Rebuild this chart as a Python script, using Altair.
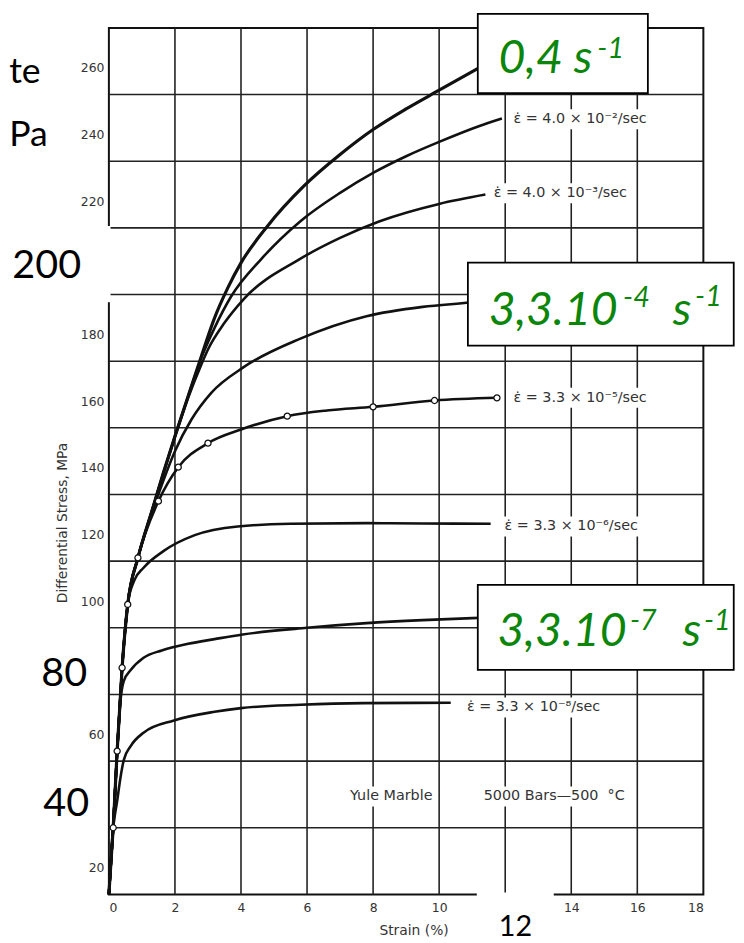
import altair as alt
import pandas as pd

# ---------------- data ----------------
# strain (%) / differential stress (MPa) for each strain-rate curve
c1_strain = [0, 0.13, 0.25, 0.40, 0.57, 0.88, 1.3, 1.65, 2.0, 2.4, 2.8, 3.2, 3.6, 4.0, 4.8, 5.9, 7.0, 8.0, 9.0, 10.0, 11.3]
c1_stress = [12, 32, 55, 80, 99, 113, 127, 138.5, 149.5, 161.5, 173.5, 185, 194, 201.5, 212.5, 224.5, 234, 241.5, 247.7, 253.3, 260.5]

c2_strain = [0, 0.13, 0.25, 0.40, 0.57, 0.88, 1.3, 1.65, 2.0, 2.4, 2.8, 3.2, 3.7, 4.6, 5.8, 7.0, 8.0, 9.0, 10.0, 11.2, 11.9]
c2_stress = [12, 32, 55, 80, 99, 113, 127, 138.5, 149.5, 161.5, 173, 182, 191.4, 202.5, 214, 222.5, 228.5, 233.5, 237.8, 242.5, 244.8]

c3_strain = [0, 0.13, 0.25, 0.40, 0.57, 0.88, 1.3, 1.65, 2.0, 2.4, 2.8, 3.0, 3.5, 4.07, 5.74, 7.0, 8.2, 10.0, 11.4]
c3_stress = [12, 32, 55, 80, 99, 113, 127, 138.3, 149.2, 161, 171, 175.5, 183.5, 190.5, 202.4, 209, 214, 219.2, 222]

c4_strain = [0, 0.13, 0.25, 0.40, 0.57, 0.88, 1.2, 1.55, 2.0, 2.5, 3.1, 4.08, 5.78, 7.8, 9.5, 10.93, 11.6]
c4_stress = [12, 32, 55, 80, 99, 113, 123.5, 133.5, 145, 154.5, 162.5, 170.2, 178.7, 185.5, 188.3, 189.6, 190.3]

c5_strain = [0, 0.13, 0.25, 0.40, 0.57, 0.88, 1.5, 2.1, 3.0, 4.0, 5.4, 6.6, 8.0, 9.86, 11.75]
c5_stress = [12, 32, 55, 80, 99, 113, 130, 140.2, 147.4, 151.5, 155.5, 157.2, 158.3, 160.2, 161]

c6_strain = [0, 0.13, 0.25, 0.40, 0.57, 0.76, 1.05, 1.65, 2.6, 3.9, 5.5, 7.8, 9.5, 11.56]
c6_stress = [12, 32, 55, 80, 99, 106, 110, 115, 119.8, 122.4, 123.2, 123.4, 123.3, 123.2]

c7_strain = [0, 0.13, 0.25, 0.36, 0.45, 0.66, 1.05, 1.6, 2.4, 3.2, 4.05, 6.0, 7.8, 9.5, 11.0, 11.3]
c7_stress = [12, 32, 55, 71, 76, 79.3, 83, 85.2, 87.2, 88.6, 90, 92.0, 93.4, 94.3, 94.9, 95]

c8_strain = [0, 0.12, 0.25, 0.35, 0.45, 0.66, 1.06, 1.97, 3.2, 4.0, 5.8, 7.7, 10.35]
c8_stress = [12, 31, 40, 47, 52.3, 56.5, 60.6, 64.2, 66.8, 67.9, 68.9, 69.4, 69.5]

# measured points (open circles) on the 3.3e-5/sec curve
pts_strain = [0.13, 0.25, 0.40, 0.57, 0.88, 1.5, 2.1, 3.0, 5.4, 8.0, 9.86, 11.75]
pts_stress = [32, 55, 80, 99, 113, 130, 140.2, 147.4, 155.5, 158.3, 160.2, 161]

curve_names = ["0.4/s", "4.0e-2/s", "4.0e-3/s", "3.3e-4/s", "3.3e-5/s", "3.3e-6/s", "3.3e-7/s", "3.3e-8/s"]
curve_strains = [c1_strain, c2_strain, c3_strain, c4_strain, c5_strain, c6_strain, c7_strain, c8_strain]
curve_stresses = [c1_stress, c2_stress, c3_stress, c4_stress, c5_stress, c6_stress, c7_stress, c8_stress]

# axis tick values
x_ticks = [0, 2, 4, 6, 8, 10, 12, 14, 16, 18]
y_ticks = [20, 40, 60, 80, 100, 120, 140, 160, 180, 200, 220, 240, 260]
x_grid = [2, 4, 6, 8, 10, 12, 14, 16]
y_grid = [32, 52, 72, 92, 112, 132, 152, 172, 192, 212, 232, 252]

# original small curve labels
rate_labels = ["\u03b5\u0307 = 4.0 \u00d7 10\u207b\u00b2/sec", "\u03b5\u0307 = 4.0 \u00d7 10\u207b\u00b3/sec",
               "\u03b5\u0307 = 3.3 \u00d7 10\u207b\u2075/sec", "\u03b5\u0307 = 3.3 \u00d7 10\u207b\u2076/sec",
               "\u03b5\u0307 = 3.3 \u00d7 10\u207b\u2078/sec"]
rate_x = [12.25, 11.65, 12.25, 11.98, 10.84]
rate_y = [244.6, 222.4, 161.0, 122.4, 68.1]
rate_w = [4.2, 4.2, 4.2, 4.2, 4.1]

info_labels = ["Yule Marble", "5000 Bars\u2014500\u00a0 \u00b0C"]
info_x = [7.3, 11.35]
info_y = [41.4, 41.4]
info_w = [2.5, 4.6]

# overlaid boxes (green strain-rate callouts)
box_x1 = [11.17, 10.87, 11.17]
box_x2 = [16.32, 18.92, 18.92]
box_y1 = [252.4, 176.7, 79.4]
box_y2 = [276.2, 201.6, 104.9]

main_txt = ["0,4 s", "3,3.10", "s", "3,3.10", "s"]
main_x = [11.80, 11.50, 17.07, 11.77, 17.37]
main_y = [258.6, 182.9, 182.9, 86.5, 86.5]
sup_txt = ["-1", "-4", "-1", "-7", "-1"]
sup_x = [14.79, 15.57, 17.75, 15.78, 18.02]
sup_y = [263.0, 188.3, 188.6, 91.2, 91.2]

big_txt = ["200", "80", "40"]
big_x = [-0.84, -0.66, -0.60]
big_y = [200.6, 78.0, 39.0]

# ---------------- tables ----------------
rows = []
for name, xs_, ys_ in zip(curve_names, curve_strains, curve_stresses):
    for i, (a, b) in enumerate(zip(xs_, ys_)):
        rows.append({"curve": name, "i": i, "x": a, "y": b})
curves_df = pd.DataFrame(rows)
pts_df = pd.DataFrame({"x": pts_strain, "y": pts_stress})
gx_df = pd.DataFrame({"x": x_grid})
gy_df = pd.DataFrame({"y": y_grid})
rate_df = pd.DataFrame({"x": rate_x, "y": rate_y, "t": rate_labels,
                        "x0": [a - 0.1 for a in rate_x], "x2": [a + w for a, w in zip(rate_x, rate_w)],
                        "y0": [b - 3 for b in rate_y], "y2": [b + 3 for b in rate_y]})
info_df = pd.DataFrame({"x": info_x, "y": info_y, "t": info_labels,
                        "x0": [a - 0.1 for a in info_x], "x2": [a + w for a, w in zip(info_x, info_w)],
                        "y0": [b - 3 for b in info_y], "y2": [b + 3 for b in info_y]})
box_df = pd.DataFrame({"x": box_x1, "x2": box_x2, "y": box_y1, "y2": box_y2})
main_df = pd.DataFrame({"x": main_x, "y": main_y, "t": main_txt})
sup_df = pd.DataFrame({"x": sup_x, "y": sup_y, "t": sup_txt})
big_df = pd.DataFrame({"x": big_x, "y": big_y, "t": big_txt})
twelve_df = pd.DataFrame({"x": [12.31], "y": [2.3], "t": ["12"]})
cover_df = pd.DataFrame({"x": [-3.4, 11.14], "x2": [0.05, 13.47], "y": [189.7, -1.0], "y2": [212.6, 12.6]})
slide_df = pd.DataFrame({"x": [-3.02, -3.02], "y": [255.6, 236.6], "t": ["te", "Pa"]})

# ---------------- scales & axes ----------------
xs = alt.Scale(domain=[0, 18], nice=False, zero=False)
ys = alt.Scale(domain=[12, 272], nice=False, zero=False)
small_font = "DejaVu Sans"
xax = alt.Axis(values=x_ticks, labelExpr="datum.value == 12 ? '' : datum.label",
               grid=False, domain=False, ticks=False, labelFont=small_font, labelFontSize=12.5,
               labelColor="#333", labelPadding=7, title="Strain (%)", titleFont=small_font,
               titleFontSize=14, titleFontWeight="normal", titleColor="#333", titleX=308, titleY=37,
               titleBaseline="middle", titleAlign="center")
yax = alt.Axis(values=y_ticks,
               labelExpr="(datum.value == 200 || datum.value == 80 || datum.value == 40) ? '' : datum.label",
               grid=False, domain=False, ticks=False, labelFont=small_font, labelFontSize=12.5,
               labelColor="#333", labelPadding=5, title="Differential Stress, MPa", titleFont=small_font,
               titleFontSize=14, titleFontWeight="normal", titleColor="#333", titleX=-47, titleY=500,
               titleAngle=270, titleBaseline="middle", titleAlign="center")


def X(f="x"):
    return alt.X(f"{f}:Q", scale=xs, axis=xax)


def Y(f="y"):
    return alt.Y(f"{f}:Q", scale=ys, axis=yax)


green = "#0b860b"

grid_v = alt.Chart(gx_df).mark_rule(color="#222", strokeWidth=1.6).encode(x=X())
grid_h = alt.Chart(gy_df).mark_rule(color="#222", strokeWidth=1.6).encode(y=Y())

lines = alt.Chart(curves_df).mark_line(interpolate="monotone", color="#111").encode(
    x=X(), y=Y(), detail="curve:N", order="i:Q",
    strokeWidth=alt.condition(alt.datum.curve == "0.4/s", alt.value(3.2), alt.value(2.6)))

points = alt.Chart(pts_df).mark_point(shape="circle", filled=True, fill="white", stroke="#111",
                                      strokeWidth=1.3, size=38, opacity=1).encode(x=X(), y=Y())

rate_bg = alt.Chart(rate_df).mark_rect(color="white").encode(x=X("x0"), x2="x2:Q", y=Y("y0"), y2="y2:Q")
rate_txt = alt.Chart(rate_df).mark_text(align="left", baseline="middle", font=small_font,
                                        fontSize=14.5, color="#333").encode(x=X(), y=Y(), text="t:N")
info_bg = alt.Chart(info_df).mark_rect(color="white").encode(x=X("x0"), x2="x2:Q", y=Y("y0"), y2="y2:Q")
info_txt = alt.Chart(info_df).mark_text(align="left", baseline="middle", font=small_font,
                                        fontSize=14.5, color="#333").encode(x=X(), y=Y(), text="t:N")

boxes = alt.Chart(box_df).mark_rect(fill="white", stroke="#000", strokeWidth=1.8).encode(
    x=X(), x2="x2:Q", y=Y(), y2="y2:Q")
box_main = alt.Chart(main_df).mark_text(align="left", baseline="alphabetic", font="Lato",
                                        fontStyle="italic", fontSize=47, color=green).encode(
    x=X(), y=Y(), text="t:N")
box_sup = alt.Chart(sup_df).mark_text(align="left", baseline="alphabetic", font="Lato",
                                      fontStyle="italic", fontSize=29, color=green).encode(
    x=X(), y=Y(), text="t:N")

covers = alt.Chart(cover_df).mark_rect(color="white").encode(x=X(), x2="x2:Q", y=Y(), y2="y2:Q")
big = alt.Chart(big_df).mark_text(align="right", baseline="middle", font="Lato", fontSize=40,
                                  color="#000").encode(x=X(), y=Y(), text="t:N")
twelve = alt.Chart(twelve_df).mark_text(align="center", baseline="middle", font="Lato", fontSize=29,
                                        color="#000").encode(x=X(), y=Y(), text="t:N")
slide = alt.Chart(slide_df).mark_text(align="left", baseline="alphabetic", font="Lato", fontSize=36,
                                      color="#000").encode(x=X(), y=Y(), text="t:N")

chart = alt.layer(
    grid_v, grid_h, lines, points, rate_bg, rate_txt, info_bg, info_txt,
    boxes, box_main, box_sup, covers, big, twelve, slide
).properties(
    width=601, height=876,
    padding={"left": 102, "top": 15, "right": 33, "bottom": 44},
    autosize=alt.AutoSizeParams(type="none"),
    background="white",
).configure_view(stroke="#111", strokeWidth=2)

chart.save("out.html", embed_options={"renderer": "svg", "actions": False})
